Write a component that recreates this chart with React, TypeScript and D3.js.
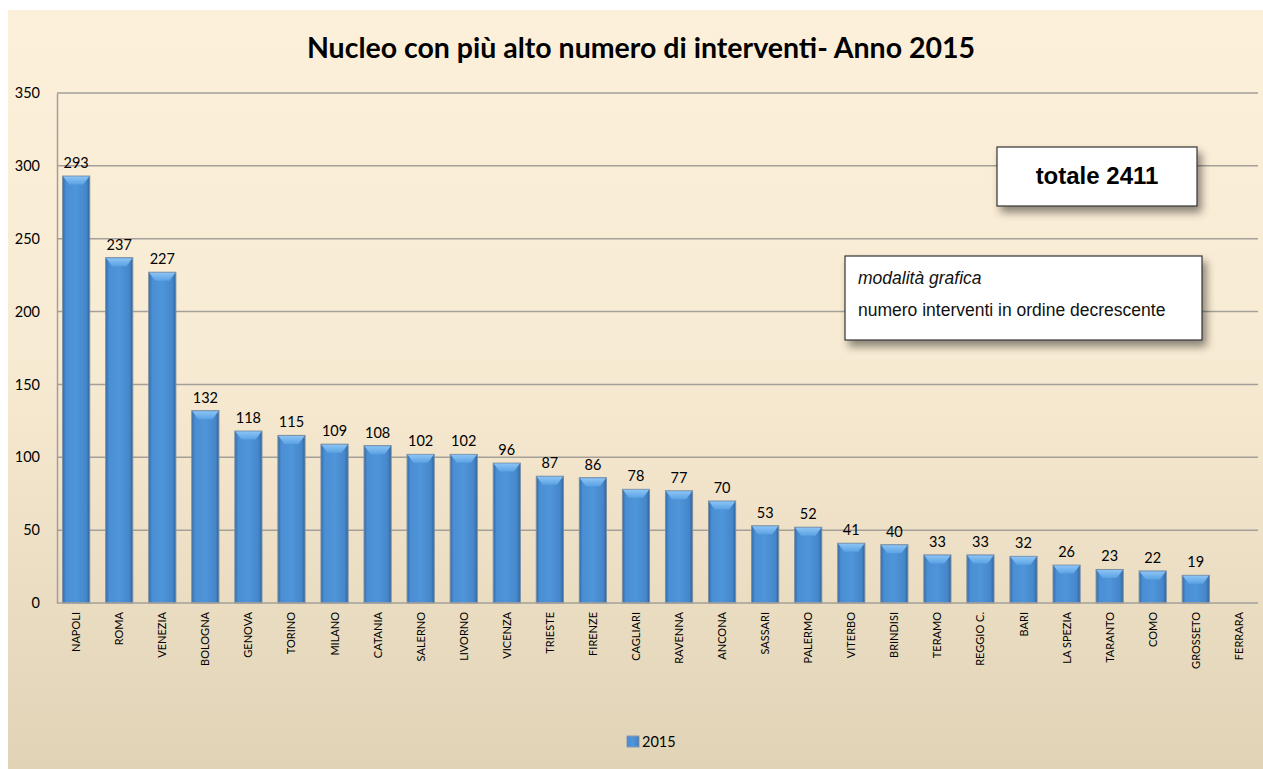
import React, { useEffect, useRef } from "react";
import * as d3 from "d3";

const nuclei = [
  "NAPOLI", "ROMA", "VENEZIA", "BOLOGNA", "GENOVA", "TORINO", "MILANO",
  "CATANIA", "SALERNO", "LIVORNO", "VICENZA", "TRIESTE", "FIRENZE",
  "CAGLIARI", "RAVENNA", "ANCONA", "SASSARI", "PALERMO", "VITERBO",
  "BRINDISI", "TERAMO", "REGGIO C.", "BARI", "LA SPEZIA", "TARANTO",
  "COMO", "GROSSETO", "FERRARA",
];
const interventi2015: (number | null)[] = [
  293, 237, 227, 132, 118, 115, 109, 108, 102, 102, 96, 87, 86, 78, 77, 70,
  53, 52, 41, 40, 33, 33, 32, 26, 23, 22, 19, null,
];
const yTicks = [0, 50, 100, 150, 200, 250, 300, 350];
const titolo = "Nucleo con più alto numero di interventi- Anno 2015";
const serie = "2015";

const W = 1263;
const H = 769;

const App = () => {
  const ref = useRef<SVGSVGElement | null>(null);

  useEffect(() => {
    const svg = d3.select(ref.current);
    svg.selectAll("*").remove();

    const margin = { top: 93, right: 5, bottom: 166, left: 57 };
    const font = "Lato, 'Open Sans', sans-serif";

    const defs = svg.append("defs");
    const bg = defs.append("linearGradient").attr("id", "bg")
      .attr("x1", 0).attr("y1", 0).attr("x2", 0).attr("y2", 1);
    bg.append("stop").attr("offset", "0%").attr("stop-color", "#fdf0da");
    bg.append("stop").attr("offset", "45%").attr("stop-color", "#f8ebd3");
    bg.append("stop").attr("offset", "100%").attr("stop-color", "#e0d3b6");

    const barG = defs.append("linearGradient").attr("id", "bar")
      .attr("x1", 0).attr("y1", 0).attr("x2", 1).attr("y2", 0);
    barG.append("stop").attr("offset", "0%").attr("stop-color", "#2f6aa8");
    barG.append("stop").attr("offset", "12%").attr("stop-color", "#4a8ed3");
    barG.append("stop").attr("offset", "50%").attr("stop-color", "#4f95da");
    barG.append("stop").attr("offset", "88%").attr("stop-color", "#4586c9");
    barG.append("stop").attr("offset", "100%").attr("stop-color", "#2c629c");

    const capG = defs.append("linearGradient").attr("id", "cap")
      .attr("x1", 0).attr("y1", 0).attr("x2", 0).attr("y2", 1);
    capG.append("stop").attr("offset", "0%").attr("stop-color", "#8cc4f5");
    capG.append("stop").attr("offset", "100%").attr("stop-color", "#5aa2e3");

    const shadow = defs.append("filter").attr("id", "shadow")
      .attr("x", "-10%").attr("y", "-20%").attr("width", "130%").attr("height", "160%");
    shadow.append("feDropShadow").attr("dx", 4).attr("dy", 6)
      .attr("stdDeviation", 4).attr("flood-color", "#000").attr("flood-opacity", 0.45);

    // sfondo
    svg.append("rect").attr("x", 8).attr("y", 10)
      .attr("width", W - 8).attr("height", H - 10).attr("fill", "url(#bg)");

    const x = d3.scaleBand()
      .domain(nuclei)
      .range([margin.left, W - margin.right])
      .paddingInner(0.37)
      .paddingOuter(0.13);

    const y = d3.scaleLinear()
      .domain([0, 350])
      .range([H - margin.bottom, margin.top]);

    // griglia
    svg.append("g")
      .selectAll("line")
      .data(yTicks.filter(d => d > 0))
      .enter()
      .append("line")
      .attr("x1", margin.left)
      .attr("x2", W - margin.right)
      .attr("y1", d => y(d))
      .attr("y2", d => y(d))
      .attr("stroke", "#a3a09a")
      .attr("stroke-width", 1.5);

    // asse Y
    const yAxis = svg.append("g")
      .attr("transform", `translate(${margin.left},0)`)
      .call(d3.axisLeft(y).tickValues(yTicks).tickSize(0).tickPadding(17));
    yAxis.select(".domain").attr("stroke", "#a3a09a").attr("stroke-width", 1.5);
    yAxis.selectAll("text").attr("font-family", font).attr("font-size", 14.5).attr("fill", "#000");

    // barre
    const data = nuclei.map((n, i) => ({ n, v: interventi2015[i] }));
    const bars = svg.append("g").selectAll("g")
      .data(data.filter(d => d.v != null))
      .enter()
      .append("g");

    bars.append("rect")
      .attr("x", d => x(d.n)!)
      .attr("y", d => y(d.v!))
      .attr("width", x.bandwidth())
      .attr("height", d => y(0) - y(d.v!))
      .attr("fill", "url(#bar)")
      .attr("stroke", "#7d8ea0")
      .attr("stroke-width", 1);

    bars.append("path")
      .attr("d", d => {
        const x0 = x(d.n)! + 0.5;
        const x1 = x0 + x.bandwidth() - 1;
        const y0 = y(d.v!) + 0.5;
        return `M${x0},${y0} L${x1},${y0} L${x1 - 6},${y0 + 8} L${x0 + 6},${y0 + 8} Z`;
      })
      .attr("fill", "url(#cap)");

    bars.append("text")
      .attr("x", d => x(d.n)! + x.bandwidth() / 2)
      .attr("y", d => y(d.v!) - 8)
      .attr("text-anchor", "middle")
      .attr("font-family", font)
      .attr("font-size", 14.5)
      .attr("fill", "#000")
      .text(d => d.v!);

    // asse X
    svg.append("line")
      .attr("x1", margin.left).attr("x2", W - margin.right)
      .attr("y1", y(0)).attr("y2", y(0))
      .attr("stroke", "#a3a09a").attr("stroke-width", 1.5);

    svg.append("g").selectAll("text")
      .data(nuclei)
      .enter()
      .append("text")
      .attr("transform", d => `translate(${x(d)! + x.bandwidth() / 2 + 4},${y(0) + 9}) rotate(-90)`)
      .attr("text-anchor", "end")
      .attr("font-family", font)
      .attr("font-size", 11)
      .attr("fill", "#000")
      .text(d => d);

    // titolo
    svg.append("text")
      .attr("x", 641).attr("y", 58)
      .attr("text-anchor", "middle")
      .attr("font-family", font)
      .attr("font-weight", "bold")
      .attr("font-size", 28.5)
      .attr("fill", "#000")
      .text(titolo);

    // legenda
    svg.append("rect").attr("x", 627).attr("y", 736).attr("width", 12).attr("height", 11)
      .attr("fill", "url(#bar)").attr("stroke", "#8a9aab");
    svg.append("text").attr("x", 642).attr("y", 747)
      .attr("font-family", font).attr("font-size", 14.5).attr("fill", "#000").text(serie);

    // riquadri
    const sans = "'Liberation Sans', Arial, sans-serif";
    svg.append("rect").attr("x", 997).attr("y", 147).attr("width", 200).attr("height", 59)
      .attr("fill", "#fff").attr("stroke", "#333").attr("stroke-width", 1.2)
      .attr("filter", "url(#shadow)");
    svg.append("text").attr("x", 1097).attr("y", 184).attr("text-anchor", "middle")
      .attr("font-family", sans).attr("font-weight", "bold").attr("font-size", 24)
      .attr("fill", "#000").text("totale 2411");

    svg.append("rect").attr("x", 845).attr("y", 256).attr("width", 357).attr("height", 84)
      .attr("fill", "#fff").attr("stroke", "#333").attr("stroke-width", 1.2)
      .attr("filter", "url(#shadow)");
    svg.append("text").attr("x", 858).attr("y", 284)
      .attr("font-family", sans).attr("font-style", "italic").attr("font-size", 17.5)
      .attr("fill", "#111").text("modalità grafica");
    svg.append("text").attr("x", 858).attr("y", 316)
      .attr("font-family", sans).attr("font-size", 17.5)
      .attr("fill", "#111").text("numero interventi in ordine decrescente");
  }, []);

  return (
    <svg
      ref={ref}
      width={W}
      height={H}
      style={{ position: "absolute", left: 0, top: 0, background: "#fff" }}
    />
  );
};

export default App;
